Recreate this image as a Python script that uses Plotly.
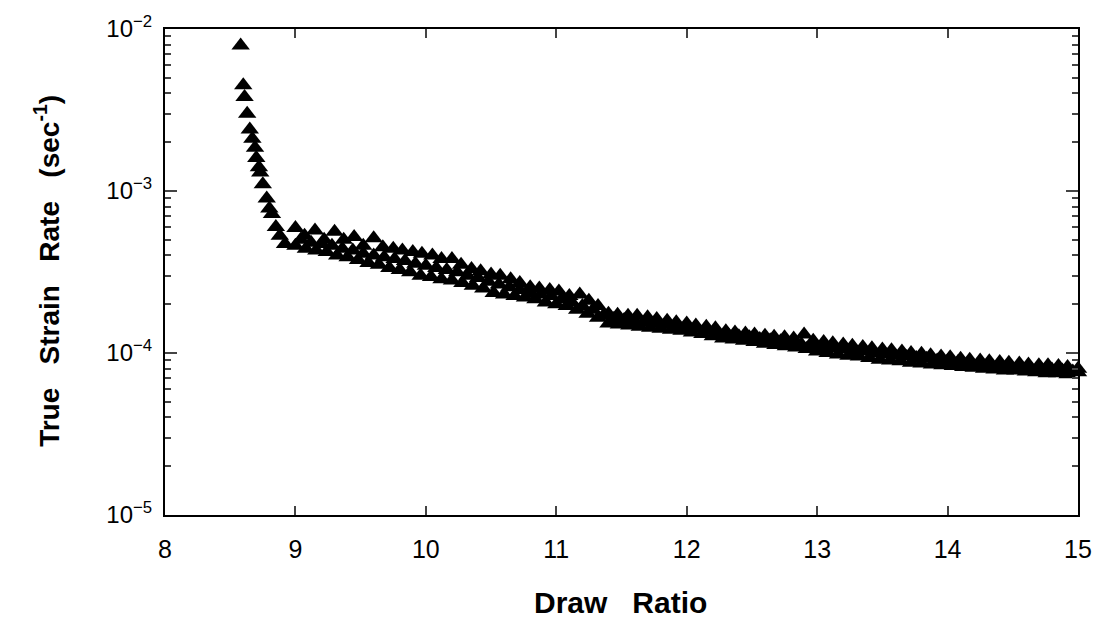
import plotly.graph_objects as go

# steep initial section
x_steep = [8.58, 8.60, 8.61, 8.63, 8.65, 8.67, 8.69, 8.70, 8.72, 8.73, 8.75, 8.78, 8.80, 8.82, 8.85, 8.88]
y_steep = [7.9e-3, 4.5e-3, 3.8e-3, 3.0e-3, 2.4e-3, 2.1e-3, 1.85e-3, 1.6e-3, 1.4e-3, 1.3e-3, 1.1e-3,
           9.0e-4, 7.8e-4, 7.2e-4, 6.0e-4, 5.3e-4]

# upper edge of the data band
x_upper = [9.00, 9.07, 9.15, 9.22, 9.30, 9.37, 9.45, 9.52, 9.60, 9.67, 9.75, 9.82, 9.90, 9.97,
           10.05, 10.12, 10.20, 10.27, 10.35, 10.42, 10.50, 10.57, 10.65, 10.72, 10.80, 10.87, 10.95,
           11.02, 11.10, 11.18, 11.25, 11.32, 11.40, 11.47, 11.55, 11.62, 11.70, 11.77, 11.85, 11.92,
           12.00, 12.07, 12.15, 12.22, 12.30, 12.37, 12.45, 12.52, 12.60, 12.67, 12.75, 12.82, 12.90,
           12.97, 13.05, 13.12, 13.20, 13.27, 13.35, 13.42, 13.50, 13.57, 13.65, 13.72, 13.80, 13.87,
           13.95, 14.02, 14.10, 14.17, 14.25, 14.32, 14.40, 14.47, 14.55, 14.62, 14.70, 14.77, 14.85,
           14.92, 15.00]
y_upper = [5.9e-4, 5.3e-4, 5.7e-4, 5.0e-4, 5.6e-4, 5.0e-4, 5.2e-4, 4.6e-4, 5.1e-4, 4.5e-4, 4.4e-4,
           4.3e-4, 4.2e-4, 4.1e-4, 4.0e-4, 3.8e-4, 3.8e-4, 3.5e-4, 3.3e-4, 3.2e-4, 3.05e-4, 3.0e-4,
           2.85e-4, 2.7e-4, 2.55e-4, 2.5e-4, 2.45e-4, 2.4e-4, 2.25e-4, 2.3e-4, 2.1e-4, 1.95e-4, 1.75e-4,
           1.72e-4, 1.7e-4, 1.7e-4, 1.66e-4, 1.62e-4, 1.58e-4, 1.55e-4, 1.52e-4, 1.48e-4, 1.45e-4,
           1.42e-4, 1.36e-4, 1.34e-4, 1.32e-4, 1.3e-4, 1.28e-4, 1.26e-4, 1.25e-4, 1.23e-4, 1.3e-4,
           1.19e-4, 1.17e-4, 1.15e-4, 1.13e-4, 1.11e-4, 1.09e-4, 1.07e-4, 1.05e-4, 1.04e-4, 1.02e-4,
           1.0e-4, 9.9e-5, 9.7e-5, 9.5e-5, 9.4e-5, 9.2e-5, 9.1e-5, 9.0e-5, 8.9e-5, 8.8e-5, 8.7e-5,
           8.6e-5, 8.5e-5, 8.4e-5, 8.4e-5, 8.3e-5, 8.2e-5, 8.0e-5]

# centre of the data band
x_middle = [9.04, 9.12, 9.20, 9.28, 9.36, 9.44, 9.52, 9.60, 9.68, 9.76, 9.84, 9.92, 10.00, 10.08,
            10.16, 10.24, 10.32, 10.40, 10.48, 10.56, 10.64, 10.72, 10.80, 10.88, 10.96, 11.04, 11.12,
            11.20, 11.28, 11.36, 11.44, 11.52, 11.60, 11.68, 11.76, 11.84, 11.92, 12.00, 12.08, 12.16,
            12.24, 12.32, 12.40, 12.48, 12.56, 12.64, 12.72, 12.80, 12.88, 12.96, 13.04, 13.12, 13.20,
            13.28, 13.36, 13.44, 13.52, 13.60, 13.68, 13.76, 13.84, 13.92, 14.00, 14.08, 14.16, 14.24,
            14.32, 14.40, 14.48, 14.56, 14.64, 14.72, 14.80, 14.88, 14.96]
y_middle = [5.0e-4, 4.8e-4, 4.7e-4, 4.6e-4, 4.4e-4, 4.3e-4, 4.1e-4, 4.0e-4, 3.9e-4, 3.8e-4, 3.7e-4,
            3.55e-4, 3.45e-4, 3.35e-4, 3.25e-4, 3.15e-4, 3.0e-4, 2.9e-4, 2.75e-4, 2.65e-4, 2.55e-4,
            2.45e-4, 2.35e-4, 2.3e-4, 2.25e-4, 2.15e-4, 2.05e-4, 1.95e-4, 1.85e-4, 1.7e-4, 1.62e-4,
            1.6e-4, 1.57e-4, 1.55e-4, 1.52e-4, 1.5e-4, 1.47e-4, 1.44e-4, 1.42e-4, 1.38e-4, 1.33e-4,
            1.29e-4, 1.27e-4, 1.25e-4, 1.22e-4, 1.2e-4, 1.18e-4, 1.15e-4, 1.13e-4, 1.11e-4, 1.09e-4,
            1.07e-4, 1.05e-4, 1.03e-4, 1.02e-4, 1.0e-4, 9.8e-5, 9.6e-5, 9.5e-5, 9.3e-5, 9.2e-5, 9.0e-5,
            8.9e-5, 8.8e-5, 8.6e-5, 8.5e-5, 8.4e-5, 8.3e-5, 8.2e-5, 8.1e-5, 8.0e-5, 7.9e-5, 7.9e-5,
            7.8e-5, 7.7e-5]

# lower edge of the data band
x_lower = [8.92, 9.00, 9.08, 9.16, 9.24, 9.32, 9.40, 9.48, 9.56, 9.64, 9.72, 9.80, 9.88, 9.96,
           10.04, 10.12, 10.20, 10.28, 10.36, 10.44, 10.52, 10.60, 10.68, 10.76, 10.84, 10.92, 11.00,
           11.08, 11.16, 11.24, 11.32, 11.40, 11.48, 11.56, 11.64, 11.72, 11.80, 11.88, 11.96, 12.04,
           12.12, 12.20, 12.28, 12.36, 12.44, 12.52, 12.60, 12.68, 12.76, 12.84, 12.92, 13.00, 13.08,
           13.16, 13.24, 13.32, 13.40, 13.48, 13.56, 13.64, 13.72, 13.80, 13.88, 13.96, 14.04, 14.12,
           14.20, 14.28, 14.36, 14.44, 14.52, 14.60, 14.68, 14.76, 14.84, 14.92, 15.00]
y_lower = [4.7e-4, 4.6e-4, 4.4e-4, 4.3e-4, 4.2e-4, 4.0e-4, 3.9e-4, 3.75e-4, 3.6e-4, 3.5e-4, 3.35e-4,
           3.25e-4, 3.15e-4, 3.0e-4, 2.95e-4, 2.85e-4, 2.8e-4, 2.7e-4, 2.6e-4, 2.5e-4, 2.35e-4, 2.3e-4,
           2.25e-4, 2.2e-4, 2.15e-4, 2.05e-4, 2.0e-4, 1.95e-4, 1.85e-4, 1.75e-4, 1.65e-4, 1.52e-4,
           1.5e-4, 1.48e-4, 1.45e-4, 1.43e-4, 1.41e-4, 1.39e-4, 1.37e-4, 1.34e-4, 1.31e-4, 1.27e-4,
           1.23e-4, 1.21e-4, 1.19e-4, 1.17e-4, 1.14e-4, 1.12e-4, 1.1e-4, 1.08e-4, 1.06e-4, 1.02e-4,
           1.0e-4, 9.8e-5, 9.6e-5, 9.5e-5, 9.3e-5, 9.1e-5, 9.0e-5, 8.9e-5, 8.7e-5, 8.6e-5, 8.5e-5,
           8.4e-5, 8.3e-5, 8.2e-5, 8.1e-5, 8.0e-5, 7.9e-5, 7.8e-5, 7.8e-5, 7.7e-5, 7.6e-5, 7.5e-5,
           7.5e-5, 7.4e-5, 7.6e-5]

x_ticks = [8, 9, 10, 11, 12, 13, 14, 15]
y_ticks = [1e-5, 1e-4, 1e-3, 1e-2]
y_ticktext = ["10<sup>−5</sup>", "10<sup>−4</sup>", "10<sup>−3</sup>", "10<sup>−2</sup>"]
y_minor = [k * 10.0 ** e for e in (-5, -4, -3) for k in range(2, 10)]

fig = go.Figure()
marker = dict(symbol="triangle-up", size=16, color="black", line=dict(width=0))
for xs, ys in ((x_steep, y_steep), (x_lower, y_lower), (x_middle, y_middle), (x_upper, y_upper)):
    fig.add_trace(go.Scatter(x=xs, y=ys, mode="markers", marker=marker, showlegend=False,
                             cliponaxis=False))

font_family = "Liberation Sans"
fig.update_layout(
    width=1104, height=632,
    margin=dict(l=165, r=17, t=18, b=117),
    paper_bgcolor="white", plot_bgcolor="white",
    font=dict(family=font_family, color="black", size=24),
    showlegend=False,
)
fig.update_xaxes(
    range=[8, 15], tickvals=x_ticks, ticks="inside", ticklen=9, tickwidth=1.5,
    showline=True, linecolor="black", linewidth=2, mirror="ticks", showgrid=False,
    zeroline=False, tickfont=dict(size=25, family=font_family), ticklabelstandoff=11,
)
fig.update_yaxes(
    type="log", range=[-5, -2], tickvals=y_ticks, ticktext=y_ticktext,
    ticks="inside", ticklen=12, tickwidth=1.5,
    minor=dict(tickvals=y_minor, ticks="inside", ticklen=6, tickwidth=1.5, showgrid=False),
    showline=True, linecolor="black", linewidth=2, mirror="ticks", showgrid=False,
    zeroline=False, tickfont=dict(size=24, family=font_family), ticklabelstandoff=6,
)
fig.add_annotation(text="<b>Draw   Ratio</b>", xref="paper", yref="paper", x=0.499, y=-0.181,
                   showarrow=False, font=dict(size=30, family=font_family), xanchor="center", yanchor="middle")
fig.add_annotation(text="<b>True   Strain   Rate   (sec<sup>-1</sup>)</b>", xref="paper", yref="paper",
                   x=-0.13, y=0.503, textangle=-90, showarrow=False,
                   font=dict(size=28, family=font_family), xanchor="center", yanchor="middle")

fig.write_html("out.html")
